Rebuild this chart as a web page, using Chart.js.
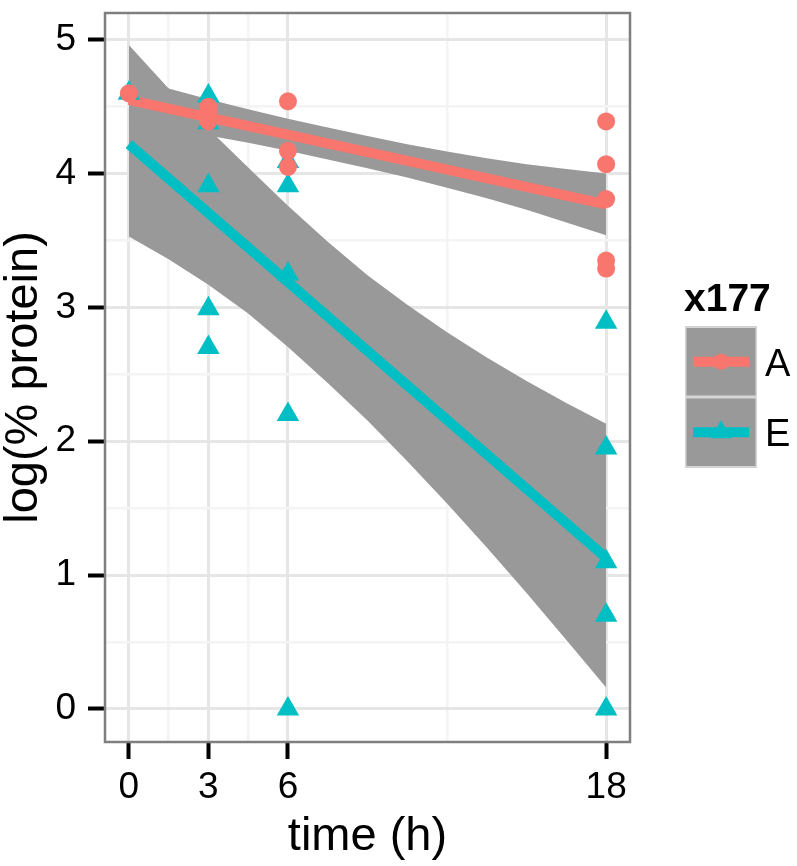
<!DOCTYPE html>
<html><head><meta charset="utf-8">
<script src="https://cdn.jsdelivr.net/npm/chart.js@4.4.1/dist/chart.umd.min.js"></script>
<style>html,body{margin:0;padding:0;background:#fff;} canvas{display:block;}</style>
</head><body>
<canvas id="c" width="797" height="866"></canvas>
<script>
// ---- data ----
const timeTicks = [0, 3, 6, 18];
const timeMinor = [1.5, 4.5, 12];
const valueTicks = [0, 1, 2, 3, 4, 5];
const valueMinor = [0.5, 1.5, 2.5, 3.5, 4.5];
const groupNames = ['A', 'E'];
const legendTitle = 'x177';
const xTitle = 'time (h)';
const yTitle = 'log(% protein)';

// observed points
const timeA  = [0, 3, 3, 3, 6, 6, 6, 18, 18, 18, 18, 18];
const valueA = [4.60, 4.50, 4.45, 4.39, 4.54, 4.17, 4.05, 4.39, 4.07, 3.81, 3.35, 3.29];
const timeE  = [0, 3, 3, 3, 3, 3, 6, 6, 6, 6, 6, 18, 18, 18, 18, 18];
const valueE = [4.60, 4.58, 4.38, 3.91, 2.99, 2.70, 4.09, 3.91, 3.25, 2.20, 0.00, 2.89, 1.95, 1.10, 0.70, 0.00];

// fitted lines (ends)
const fitTime = [0, 18];
const fitA = [4.55, 3.77];
const fitE = [4.22, 1.13];

// confidence bands
const bandTime = [0, 1.5, 3, 4.5, 6, 7.5, 9, 10.5, 12, 13.5, 15, 16.5, 18];
const bandAHigh = [4.72, 4.635, 4.555, 4.48, 4.41, 4.345, 4.28, 4.22, 4.165, 4.115, 4.07, 4.035, 4.00];
const bandALow  = [4.38, 4.335, 4.285, 4.23, 4.17, 4.105, 4.04, 3.97, 3.895, 3.815, 3.73, 3.635, 3.54];
const bandEHigh = [4.96, 4.635, 4.335, 4.045, 3.76, 3.49, 3.24, 3.02, 2.815, 2.625, 2.45, 2.285, 2.13];
const bandELow  = [3.53, 3.36, 3.17, 2.955, 2.705, 2.435, 2.155, 1.85, 1.535, 1.205, 0.865, 0.515, 0.16];

// ---- styling ----
const colA = '#F8766D';
const colE = '#00BFC4';
const bandCol = '#999999';
const FONT = '"Liberation Sans", Arial, Helvetica, sans-serif';

const pts = (xs, ys) => xs.map((x, i) => ({x: x, y: ys[i]}));
const isMajorX = v => timeTicks.includes(v);
const isMajorY = v => valueTicks.includes(v);

const bandStyle = {
  type: 'line', pointRadius: 0, borderWidth: 1, borderColor: 'rgba(0,0,0,0)',
  backgroundColor: bandCol, tension: 0, showLine: true
};

const datasets = [
  {label: 'A', type: 'scatter', data: pts(timeA, valueA), pointStyle: 'circle', pointRadius: 9,
   backgroundColor: colA, borderWidth: 0, order: 0},
  {label: 'E', type: 'scatter', data: pts(timeE, valueE), pointStyle: 'triangle', pointRadius: 13,
   backgroundColor: colE, borderWidth: 0, order: 1},
  {label: 'fitA', type: 'line', data: pts(fitTime, fitA), borderColor: colA, borderWidth: 10,
   pointRadius: 0, fill: false, order: 2, borderCapStyle: 'butt'},
  {label: 'fitE', type: 'line', data: pts(fitTime, fitE), borderColor: colE, borderWidth: 10,
   pointRadius: 0, fill: false, order: 3, borderCapStyle: 'butt'},
  Object.assign({label: 'bandAHigh', data: pts(bandTime, bandAHigh), fill: '+1', order: 4}, bandStyle),
  Object.assign({label: 'bandALow', data: pts(bandTime, bandALow), fill: false, order: 5}, bandStyle),
  Object.assign({label: 'bandEHigh', data: pts(bandTime, bandEHigh), fill: '+1', order: 6}, bandStyle),
  Object.assign({label: 'bandELow', data: pts(bandTime, bandELow), fill: false, order: 7}, bandStyle)
];

const panelBorder = {
  id: 'panelBorder',
  afterDatasetsDraw(chart) {
    const a = chart.chartArea, ctx = chart.ctx;
    ctx.save();
    ctx.strokeStyle = '#7F7F7F';
    ctx.lineWidth = 2.5;
    ctx.strokeRect(a.left, a.top, a.right - a.left, a.bottom - a.top);
    ctx.restore();
  }
};

const ggLegend = {
  id: 'ggLegend',
  afterDraw(chart) {
    const ctx = chart.ctx;
    ctx.save();
    ctx.fillStyle = '#000';
    ctx.font = 'bold 39px ' + FONT;
    ctx.textBaseline = 'alphabetic';
    ctx.textAlign = 'left';
    ctx.fillText(legendTitle, 684, 311);
    const keyX = 685, keyW = 72, keyH = 70.5, keyTop = 326.5;
    const styles = [
      {col: chart.data.datasets[0].backgroundColor, shape: 'circle', r: 8},
      {col: chart.data.datasets[1].backgroundColor, shape: 'triangle', r: 12}
    ];
    groupNames.forEach((name, i) => {
      const top = keyTop + i * keyH;
      ctx.fillStyle = bandCol;
      ctx.fillRect(keyX, top, keyW, keyH);
      ctx.strokeStyle = '#D6D6D6';
      ctx.lineWidth = 1.5;
      ctx.strokeRect(keyX + 0.75, top + 0.75, keyW - 1.5, keyH - 1.5);
      const cy = top + keyH / 2;
      const cx = keyX + keyW / 2;
      ctx.strokeStyle = styles[i].col;
      ctx.lineWidth = 10;
      ctx.beginPath(); ctx.moveTo(keyX + 8, cy); ctx.lineTo(keyX + keyW - 8, cy); ctx.stroke();
      ctx.fillStyle = styles[i].col;
      ctx.beginPath();
      if (styles[i].shape === 'circle') {
        ctx.arc(cx, cy, styles[i].r, 0, Math.PI * 2);
      } else {
        const r = styles[i].r;
        ctx.moveTo(cx, cy - r);
        ctx.lineTo(cx + r * Math.sin(2 * Math.PI / 3), cy - r * Math.cos(2 * Math.PI / 3));
        ctx.lineTo(cx + r * Math.sin(4 * Math.PI / 3), cy - r * Math.cos(4 * Math.PI / 3));
        ctx.closePath();
      }
      ctx.fill();
      ctx.fillStyle = '#000';
      ctx.font = '38px ' + FONT;
      ctx.fillText(name, 765, cy + 14);
    });
    ctx.restore();
  }
};

new Chart(document.getElementById('c'), {
  type: 'scatter',
  data: {datasets: datasets},
  options: {
    responsive: false,
    animation: false,
    layout: {padding: {top: 8, right: 167, left: 0, bottom: 0}},
    plugins: {legend: {display: false}, tooltip: {enabled: false}},
    scales: {
      x: {
        type: 'linear', min: -0.9, max: 18.9,
        afterBuildTicks: s => { s.ticks = timeTicks.concat(timeMinor).sort((a, b) => a - b).map(v => ({value: v})); },
        afterFit: s => { s.height = 124; s.paddingLeft = 0; s.paddingRight = 0; },
        ticks: {
          autoSkip: false, maxRotation: 0, padding: 7, color: '#000',
          font: {family: FONT, size: 37},
          callback: v => isMajorX(v) ? String(v) : ''
        },
        grid: {
          color: c => isMajorX(c.tick.value) ? '#E6E6E6' : '#F4F4F4',
          lineWidth: c => isMajorX(c.tick.value) ? 3 : 2.5,
          tickColor: c => isMajorX(c.tick.value) ? '#000' : 'rgba(0,0,0,0)',
          tickLength: 17, tickWidth: 4, drawTicks: true
        },
        border: {display: false},
        title: {display: true, text: xTitle, color: '#000',
          font: {family: FONT, size: 47, lineHeight: 1}, padding: {top: 5, bottom: 5}}
      },
      y: {
        type: 'linear', min: -0.2475, max: 5.2,
        afterBuildTicks: s => { s.ticks = valueTicks.concat(valueMinor).sort((a, b) => a - b).map(v => ({value: v})); },
        afterFit: s => { s.width = 105; s.paddingTop = 0; s.paddingBottom = 0; },
        ticks: {
          autoSkip: false, padding: 12, color: '#000',
          font: {family: FONT, size: 37},
          callback: v => isMajorY(v) ? String(v) : ''
        },
        grid: {
          color: c => isMajorY(c.tick.value) ? '#E6E6E6' : '#F4F4F4',
          lineWidth: c => isMajorY(c.tick.value) ? 3 : 2.5,
          tickColor: c => isMajorY(c.tick.value) ? '#000' : 'rgba(0,0,0,0)',
          tickLength: 17, tickWidth: 4, drawTicks: true
        },
        border: {display: false},
        title: {display: true, text: yTitle, color: '#000',
          font: {family: FONT, size: 47, lineHeight: 1}, padding: {top: 1, bottom: 1}}
      }
    }
  },
  plugins: [panelBorder, ggLegend]
});
</script>
</body></html>
